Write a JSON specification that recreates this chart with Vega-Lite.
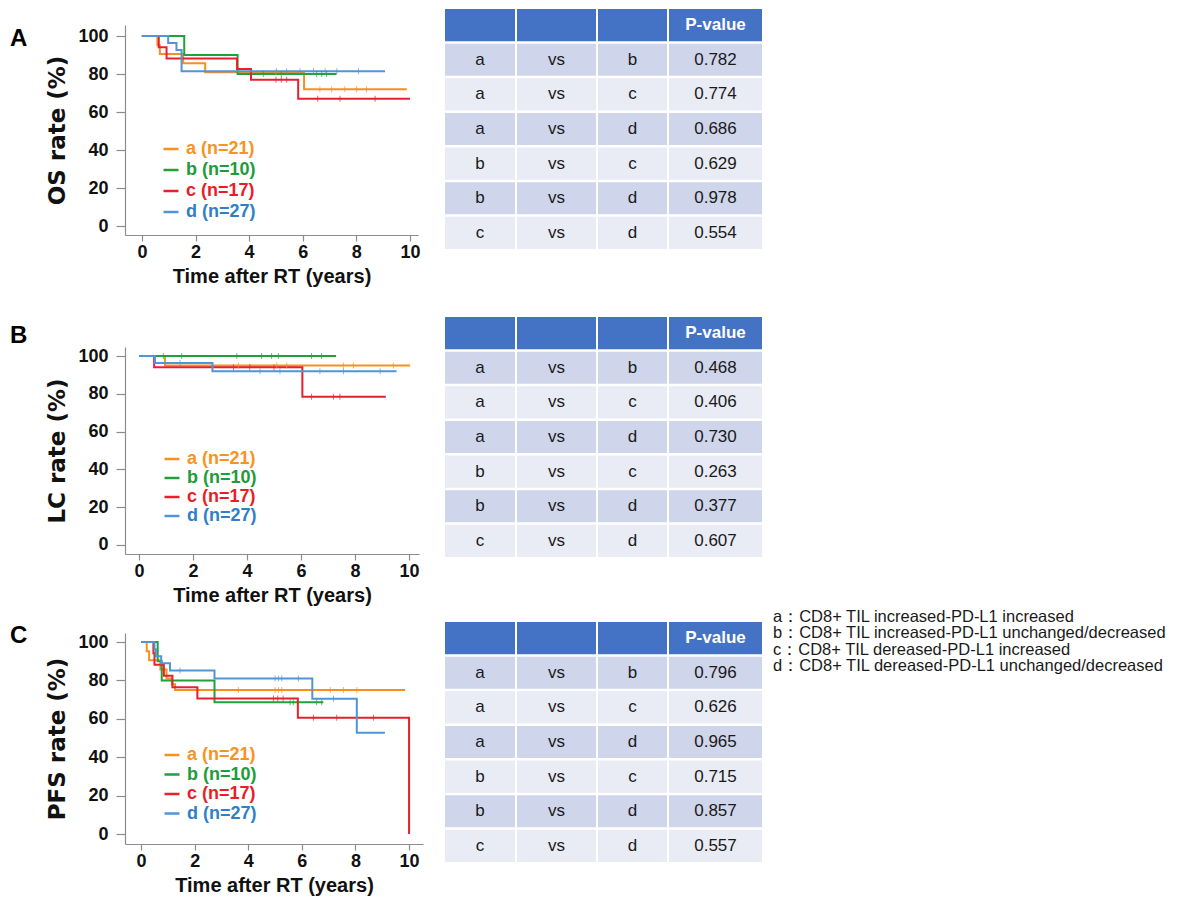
{
  "$schema": "https://vega.github.io/schema/vega-lite/v6.json",
  "background": "white",
  "padding": {"left": 10, "top": 9, "right": 4, "bottom": 2},
  "config": {
    "view": {"stroke": null},
    "font": "Liberation Sans",
    "axis": {"grid": false, "domainColor": "#8c8c8c", "tickColor": "#8c8c8c", "domainWidth": 1.2, "tickWidth": 1.2, "labelFont": "Liberation Sans", "labelFontSize": 18, "labelFontWeight": "bold", "labelColor": "#111111", "titleColor": "#111111", "titleFontWeight": "bold"},
    "axisX": {"tickSize": 6, "labelPadding": 2, "titleFont": "Liberation Sans", "titleFontSize": 20, "titlePadding": 5},
    "axisY": {"tickSize": 9, "labelPadding": 8, "titleFont": "DejaVu Sans", "titleFontSize": 23, "titlePadding": 8},
    "legend": {"symbolType": "stroke", "symbolSize": 225, "symbolStrokeWidth": 2.5, "labelFont": "Liberation Sans", "labelFontSize": 18, "labelFontWeight": "bold", "labelOffset": 6, "padding": 0}
  },
  "datasets": {
    "km": [
      {"panel":"A","group":"a (n=21)","time":0,"rate":100},{"panel":"A","group":"a (n=21)","time":0.58,"rate":95.2},{"panel":"A","group":"a (n=21)","time":0.67,"rate":90.5},{"panel":"A","group":"a (n=21)","time":1.54,"rate":85.7},{"panel":"A","group":"a (n=21)","time":2.36,"rate":81.0},{"panel":"A","group":"a (n=21)","time":6.05,"rate":72.0},{"panel":"A","group":"a (n=21)","time":9.88,"rate":72.0},
      {"panel":"A","group":"b (n=10)","time":0,"rate":100},{"panel":"A","group":"b (n=10)","time":1.58,"rate":90},{"panel":"A","group":"b (n=10)","time":3.57,"rate":80},{"panel":"A","group":"b (n=10)","time":7.26,"rate":80},
      {"panel":"A","group":"c (n=17)","time":0,"rate":100},{"panel":"A","group":"c (n=17)","time":0.63,"rate":94.1},{"panel":"A","group":"c (n=17)","time":0.92,"rate":88.2},{"panel":"A","group":"c (n=17)","time":3.55,"rate":82.6},{"panel":"A","group":"c (n=17)","time":4.07,"rate":77.0},{"panel":"A","group":"c (n=17)","time":5.83,"rate":67.0},{"panel":"A","group":"c (n=17)","time":10.0,"rate":67.0},
      {"panel":"A","group":"d (n=27)","time":0,"rate":100},{"panel":"A","group":"d (n=27)","time":0.98,"rate":96.3},{"panel":"A","group":"d (n=27)","time":1.29,"rate":92.6},{"panel":"A","group":"d (n=27)","time":1.48,"rate":81.5},{"panel":"A","group":"d (n=27)","time":9.07,"rate":81.5},
      {"panel":"B","group":"a (n=21)","time":0,"rate":100},{"panel":"B","group":"a (n=21)","time":0.96,"rate":95.0},{"panel":"B","group":"a (n=21)","time":10.04,"rate":95.0},
      {"panel":"B","group":"b (n=10)","time":0,"rate":100},{"panel":"B","group":"b (n=10)","time":7.3,"rate":100},
      {"panel":"B","group":"c (n=17)","time":0,"rate":100},{"panel":"B","group":"c (n=17)","time":0.56,"rate":94.1},{"panel":"B","group":"c (n=17)","time":6.05,"rate":78.4},{"panel":"B","group":"c (n=17)","time":9.14,"rate":78.4},
      {"panel":"B","group":"d (n=27)","time":0,"rate":100},{"panel":"B","group":"d (n=27)","time":0.59,"rate":96.3},{"panel":"B","group":"d (n=27)","time":2.72,"rate":92.0},{"panel":"B","group":"d (n=27)","time":9.54,"rate":92.0},
      {"panel":"C","group":"a (n=21)","time":0,"rate":100},{"panel":"C","group":"a (n=21)","time":0.21,"rate":95.2},{"panel":"C","group":"a (n=21)","time":0.3,"rate":90.5},{"panel":"C","group":"a (n=21)","time":0.72,"rate":85.7},{"panel":"C","group":"a (n=21)","time":0.95,"rate":81.0},{"panel":"C","group":"a (n=21)","time":1.15,"rate":78.0},{"panel":"C","group":"a (n=21)","time":1.27,"rate":75.0},{"panel":"C","group":"a (n=21)","time":9.85,"rate":75.0},
      {"panel":"C","group":"b (n=10)","time":0,"rate":100},{"panel":"C","group":"b (n=10)","time":0.62,"rate":90},{"panel":"C","group":"b (n=10)","time":0.77,"rate":80},{"panel":"C","group":"b (n=10)","time":2.74,"rate":68.6},{"panel":"C","group":"b (n=10)","time":6.8,"rate":68.6},
      {"panel":"C","group":"c (n=17)","time":0,"rate":100},{"panel":"C","group":"c (n=17)","time":0.46,"rate":94.1},{"panel":"C","group":"c (n=17)","time":0.5,"rate":88.2},{"panel":"C","group":"c (n=17)","time":0.85,"rate":82.4},{"panel":"C","group":"c (n=17)","time":1.17,"rate":76.5},{"panel":"C","group":"c (n=17)","time":2.1,"rate":70.6},{"panel":"C","group":"c (n=17)","time":5.85,"rate":60.5},{"panel":"C","group":"c (n=17)","time":10.0,"rate":0},
      {"panel":"C","group":"d (n=27)","time":0,"rate":100},{"panel":"C","group":"d (n=27)","time":0.5,"rate":96.3},{"panel":"C","group":"d (n=27)","time":0.55,"rate":92.6},{"panel":"C","group":"d (n=27)","time":0.75,"rate":88.9},{"panel":"C","group":"d (n=27)","time":1.08,"rate":85.2},{"panel":"C","group":"d (n=27)","time":2.74,"rate":81.0},{"panel":"C","group":"d (n=27)","time":6.39,"rate":70.5},{"panel":"C","group":"d (n=27)","time":8.05,"rate":52.8},{"panel":"C","group":"d (n=27)","time":9.1,"rate":52.8}
    ],
    "cens": [
      {"panel":"A","group":"a (n=21)","time":5.0,"rate":81.0},{"panel":"A","group":"a (n=21)","time":6.64,"rate":72},{"panel":"A","group":"a (n=21)","time":7.08,"rate":72},{"panel":"A","group":"a (n=21)","time":7.57,"rate":72},{"panel":"A","group":"a (n=21)","time":8.01,"rate":72},{"panel":"A","group":"a (n=21)","time":8.38,"rate":72},
      {"panel":"A","group":"b (n=10)","time":4.53,"rate":80},{"panel":"A","group":"b (n=10)","time":5.2,"rate":80},{"panel":"A","group":"b (n=10)","time":6.52,"rate":80},{"panel":"A","group":"b (n=10)","time":6.71,"rate":80},{"panel":"A","group":"b (n=10)","time":6.89,"rate":80},
      {"panel":"A","group":"c (n=17)","time":5.0,"rate":77},{"panel":"A","group":"c (n=17)","time":5.2,"rate":77},{"panel":"A","group":"c (n=17)","time":5.4,"rate":77},{"panel":"A","group":"c (n=17)","time":6.56,"rate":67},{"panel":"A","group":"c (n=17)","time":7.39,"rate":67},{"panel":"A","group":"c (n=17)","time":8.7,"rate":67},
      {"panel":"A","group":"d (n=27)","time":5.02,"rate":81.5},{"panel":"A","group":"d (n=27)","time":5.4,"rate":81.5},{"panel":"A","group":"d (n=27)","time":5.9,"rate":81.5},{"panel":"A","group":"d (n=27)","time":6.4,"rate":81.5},{"panel":"A","group":"d (n=27)","time":6.84,"rate":81.5},{"panel":"A","group":"d (n=27)","time":7.27,"rate":81.5},{"panel":"A","group":"d (n=27)","time":8.08,"rate":81.5},
      {"panel":"B","group":"a (n=21)","time":3.68,"rate":95},{"panel":"B","group":"a (n=21)","time":5.1,"rate":95},{"panel":"B","group":"a (n=21)","time":5.47,"rate":95},{"panel":"B","group":"a (n=21)","time":7.57,"rate":95},{"panel":"B","group":"a (n=21)","time":7.94,"rate":95},{"panel":"B","group":"a (n=21)","time":9.42,"rate":95},
      {"panel":"B","group":"b (n=10)","time":0.9,"rate":100},{"panel":"B","group":"b (n=10)","time":1.58,"rate":100},{"panel":"B","group":"b (n=10)","time":3.62,"rate":100},{"panel":"B","group":"b (n=10)","time":4.54,"rate":100},{"panel":"B","group":"b (n=10)","time":4.91,"rate":100},{"panel":"B","group":"b (n=10)","time":5.16,"rate":100},{"panel":"B","group":"b (n=10)","time":6.39,"rate":100},{"panel":"B","group":"b (n=10)","time":6.76,"rate":100},
      {"panel":"B","group":"c (n=17)","time":3.5,"rate":94.1},{"panel":"B","group":"c (n=17)","time":4.1,"rate":94.1},{"panel":"B","group":"c (n=17)","time":5.0,"rate":94.1},{"panel":"B","group":"c (n=17)","time":6.39,"rate":78.4},{"panel":"B","group":"c (n=17)","time":7.2,"rate":78.4},{"panel":"B","group":"c (n=17)","time":7.44,"rate":78.4},
      {"panel":"B","group":"d (n=27)","time":1.52,"rate":96.3},{"panel":"B","group":"d (n=27)","time":4.48,"rate":92},{"panel":"B","group":"d (n=27)","time":5.22,"rate":92},{"panel":"B","group":"d (n=27)","time":6.7,"rate":92},{"panel":"B","group":"d (n=27)","time":7.57,"rate":92},{"panel":"B","group":"d (n=27)","time":8.93,"rate":92},
      {"panel":"C","group":"a (n=21)","time":3.63,"rate":75},{"panel":"C","group":"a (n=21)","time":5.0,"rate":75},{"panel":"C","group":"a (n=21)","time":5.13,"rate":75},{"panel":"C","group":"a (n=21)","time":5.25,"rate":75},{"panel":"C","group":"a (n=21)","time":7.06,"rate":75},{"panel":"C","group":"a (n=21)","time":7.55,"rate":75},{"panel":"C","group":"a (n=21)","time":8.05,"rate":75},
      {"panel":"C","group":"b (n=10)","time":5.56,"rate":68.6},{"panel":"C","group":"b (n=10)","time":5.68,"rate":68.6},{"panel":"C","group":"b (n=10)","time":6.55,"rate":68.6},{"panel":"C","group":"b (n=10)","time":6.74,"rate":68.6},
      {"panel":"C","group":"c (n=17)","time":4.94,"rate":70.6},{"panel":"C","group":"c (n=17)","time":5.1,"rate":70.6},{"panel":"C","group":"c (n=17)","time":5.3,"rate":70.6},{"panel":"C","group":"c (n=17)","time":6.43,"rate":60.5},{"panel":"C","group":"c (n=17)","time":7.3,"rate":60.5},{"panel":"C","group":"c (n=17)","time":8.67,"rate":60.5},
      {"panel":"C","group":"d (n=27)","time":1.45,"rate":85.2},{"panel":"C","group":"d (n=27)","time":5.0,"rate":81},{"panel":"C","group":"d (n=27)","time":5.13,"rate":81},{"panel":"C","group":"d (n=27)","time":5.25,"rate":81},{"panel":"C","group":"d (n=27)","time":5.87,"rate":81},{"panel":"C","group":"d (n=27)","time":7.18,"rate":70.5}
    ],
    "tbl": [
      {"panel":"A","row":"h","c1":"","c2":"","c3":"","c4":"P-value"},
      {"panel":"A","row":"1","c1":"a","c2":"vs","c3":"b","c4":"0.782"},
      {"panel":"A","row":"2","c1":"a","c2":"vs","c3":"c","c4":"0.774"},
      {"panel":"A","row":"3","c1":"a","c2":"vs","c3":"d","c4":"0.686"},
      {"panel":"A","row":"4","c1":"b","c2":"vs","c3":"c","c4":"0.629"},
      {"panel":"A","row":"5","c1":"b","c2":"vs","c3":"d","c4":"0.978"},
      {"panel":"A","row":"6","c1":"c","c2":"vs","c3":"d","c4":"0.554"},
      {"panel":"B","row":"h","c1":"","c2":"","c3":"","c4":"P-value"},
      {"panel":"B","row":"1","c1":"a","c2":"vs","c3":"b","c4":"0.468"},
      {"panel":"B","row":"2","c1":"a","c2":"vs","c3":"c","c4":"0.406"},
      {"panel":"B","row":"3","c1":"a","c2":"vs","c3":"d","c4":"0.730"},
      {"panel":"B","row":"4","c1":"b","c2":"vs","c3":"c","c4":"0.263"},
      {"panel":"B","row":"5","c1":"b","c2":"vs","c3":"d","c4":"0.377"},
      {"panel":"B","row":"6","c1":"c","c2":"vs","c3":"d","c4":"0.607"},
      {"panel":"C","row":"h","c1":"","c2":"","c3":"","c4":"P-value"},
      {"panel":"C","row":"1","c1":"a","c2":"vs","c3":"b","c4":"0.796"},
      {"panel":"C","row":"2","c1":"a","c2":"vs","c3":"c","c4":"0.626"},
      {"panel":"C","row":"3","c1":"a","c2":"vs","c3":"d","c4":"0.965"},
      {"panel":"C","row":"4","c1":"b","c2":"vs","c3":"c","c4":"0.715"},
      {"panel":"C","row":"5","c1":"b","c2":"vs","c3":"d","c4":"0.857"},
      {"panel":"C","row":"6","c1":"c","c2":"vs","c3":"d","c4":"0.557"}
    ],
    "key": [
      {"k":"a","label":"a：CD8+ TIL increased-PD-L1 increased"},
      {"k":"b","label":"b：CD8+ TIL increased-PD-L1 unchanged/decreased"},
      {"k":"c","label":"c：CD8+ TIL dereased-PD-L1 increased"},
      {"k":"d","label":"d：CD8+ TIL dereased-PD-L1 unchanged/decreased"}
    ]
  },
  "spacing": 31,
  "resolve": {"scale": {"color": "independent"}, "legend": {"color": "independent"}},
  "vconcat": [
    {
      "hconcat": [
        {
          "width": 318, "height": 226,
          "title": {"text": "A", "orient": "top", "anchor": "start", "frame": "group", "align": "left", "baseline": "top", "offset": 0, "dx": -115, "dy": 42, "fontSize": 24, "fontWeight": "bold", "font": "Liberation Sans", "color": "#000000"},
          "encoding": {
            "x": {"field": "time", "type": "quantitative", "scale": {"domain": [-0.63, 10.3], "range": [0, 293], "nice": false, "zero": false}, "axis": {"values": [0, 2, 4, 6, 8, 10], "title": "Time after RT (years)"}},
            "y": {"field": "rate", "type": "quantitative", "scale": {"domain": [-4.7, 105.8], "range": [226, 16], "nice": false, "zero": false}, "axis": {"values": [0, 20, 40, 60, 80, 100], "title": "OS rate (%)"}}
          },
          "layer": [
            {"data": {"name": "km"}, "transform": [{"filter": "datum.panel === 'A'"}], "mark": {"type": "line", "interpolate": "step-after", "strokeWidth": 2},
             "encoding": {"color": {"field": "group", "type": "nominal", "scale": {"domain": ["a (n=21)", "b (n=10)", "c (n=17)", "d (n=27)"], "range": ["#F7901E", "#22A03C", "#E8202C", "#4F95DA"]},
               "legend": {"title": null, "orient": "none", "legendX": 37, "legendY": 131, "rowPadding": 3, "labelColor": {"expr": "datum.value == 'a (n=21)' ? '#F7931E' : datum.value == 'b (n=10)' ? '#1E9B3A' : datum.value == 'c (n=17)' ? '#EA1D27' : '#2F7FC8'"}}}}},
            {"data": {"name": "cens"}, "transform": [{"filter": "datum.panel === 'A'"}], "mark": {"type": "tick", "orient": "vertical", "size": 6, "thickness": 1},
             "encoding": {"color": {"field": "group", "type": "nominal", "legend": null}}}
          ]
        },
        {"width": 70, "height": 240, "data": {"name": "tbl"}, "transform": [{"filter": "datum.panel === 'A'"}],
         "encoding": {"y": {"field": "row", "type": "ordinal", "scale": {"domain": ["h","1","2","3","4","5","6"], "paddingInner": 0.07, "paddingOuter": 0}, "axis": null}},
         "layer": [
           {"mark": {"type": "rect"}, "encoding": {"fill": {"condition": [{"test": "datum.row === 'h'", "value": "#4472C4"}, {"test": "datum.row === '1' || datum.row === '3' || datum.row === '5'", "value": "#CFD5EA"}], "value": "#E9EBF5"}}},
           {"transform": [{"filter": "datum.row !== 'h'"}], "mark": {"type": "text", "fontSize": 17, "color": "#1a1a1a"}, "encoding": {"text": {"field": "c1"}}}
         ]},
        {"width": 79, "height": 240, "data": {"name": "tbl"}, "transform": [{"filter": "datum.panel === 'A'"}],
         "encoding": {"y": {"field": "row", "type": "ordinal", "scale": {"domain": ["h","1","2","3","4","5","6"], "paddingInner": 0.07, "paddingOuter": 0}, "axis": null}},
         "layer": [
           {"mark": {"type": "rect"}, "encoding": {"fill": {"condition": [{"test": "datum.row === 'h'", "value": "#4472C4"}, {"test": "datum.row === '1' || datum.row === '3' || datum.row === '5'", "value": "#CFD5EA"}], "value": "#E9EBF5"}}},
           {"transform": [{"filter": "datum.row !== 'h'"}], "mark": {"type": "text", "fontSize": 17, "color": "#1a1a1a"}, "encoding": {"text": {"field": "c2"}}}
         ]},
        {"width": 69, "height": 240, "data": {"name": "tbl"}, "transform": [{"filter": "datum.panel === 'A'"}],
         "encoding": {"y": {"field": "row", "type": "ordinal", "scale": {"domain": ["h","1","2","3","4","5","6"], "paddingInner": 0.07, "paddingOuter": 0}, "axis": null}},
         "layer": [
           {"mark": {"type": "rect"}, "encoding": {"fill": {"condition": [{"test": "datum.row === 'h'", "value": "#4472C4"}, {"test": "datum.row === '1' || datum.row === '3' || datum.row === '5'", "value": "#CFD5EA"}], "value": "#E9EBF5"}}},
           {"transform": [{"filter": "datum.row !== 'h'"}], "mark": {"type": "text", "fontSize": 17, "color": "#1a1a1a"}, "encoding": {"text": {"field": "c3"}}}
         ]},
        {"width": 93, "height": 240, "data": {"name": "tbl"}, "transform": [{"filter": "datum.panel === 'A'"}],
         "encoding": {"y": {"field": "row", "type": "ordinal", "scale": {"domain": ["h","1","2","3","4","5","6"], "paddingInner": 0.07, "paddingOuter": 0}, "axis": null}},
         "layer": [
           {"mark": {"type": "rect"}, "encoding": {"fill": {"condition": [{"test": "datum.row === 'h'", "value": "#4472C4"}, {"test": "datum.row === '1' || datum.row === '3' || datum.row === '5'", "value": "#CFD5EA"}], "value": "#E9EBF5"}}},
           {"transform": [{"filter": "datum.row !== 'h'"}], "mark": {"type": "text", "fontSize": 17, "color": "#1a1a1a"}, "encoding": {"text": {"field": "c4"}}},
           {"transform": [{"filter": "datum.row === 'h'"}], "mark": {"type": "text", "fontSize": 17, "fontWeight": "bold", "color": "#ffffff"}, "encoding": {"text": {"field": "c4"}}}
         ]}
      ],
      "spacing": 2,
      "bounds": "flush",
      "resolve": {"scale": {"color": "independent"}, "legend": {"color": "independent"}}
    },
    {
      "vconcat": [
        {
          "hconcat": [
            {
              "width": 318, "height": 237,
              "title": {"text": "B", "orient": "top", "anchor": "start", "frame": "group", "align": "left", "baseline": "top", "offset": 0, "dx": -115, "dy": 31, "fontSize": 24, "fontWeight": "bold", "font": "Liberation Sans", "color": "#000000"},
              "encoding": {
                "x": {"field": "time", "type": "quantitative", "scale": {"domain": [-0.52, 10.37], "range": [0, 294], "nice": false, "zero": false}, "axis": {"values": [0, 2, 4, 6, 8, 10], "title": "Time after RT (years)"}},
                "y": {"field": "rate", "type": "quantitative", "scale": {"domain": [-4.8, 104.8], "range": [237, 30], "nice": false, "zero": false}, "axis": {"values": [0, 20, 40, 60, 80, 100], "title": "LC rate (%)"}}
              },
              "layer": [
                {"data": {"name": "km"}, "transform": [{"filter": "datum.panel === 'B'"}], "mark": {"type": "line", "interpolate": "step-after", "strokeWidth": 2},
                 "encoding": {"color": {"field": "group", "type": "nominal", "scale": {"domain": ["a (n=21)", "b (n=10)", "c (n=17)", "d (n=27)"], "range": ["#F7901E", "#22A03C", "#E8202C", "#4F95DA"]},
                   "legend": {"title": null, "orient": "none", "legendX": 38, "legendY": 133, "rowPadding": 1, "labelColor": {"expr": "datum.value == 'a (n=21)' ? '#F7931E' : datum.value == 'b (n=10)' ? '#1E9B3A' : datum.value == 'c (n=17)' ? '#EA1D27' : '#2F7FC8'"}}}}},
                {"data": {"name": "cens"}, "transform": [{"filter": "datum.panel === 'B'"}], "mark": {"type": "tick", "orient": "vertical", "size": 6, "thickness": 1},
                 "encoding": {"color": {"field": "group", "type": "nominal", "legend": null}}}
              ]
            },
            {"width": 70, "height": 240, "data": {"name": "tbl"}, "transform": [{"filter": "datum.panel === 'B'"}],
             "encoding": {"y": {"field": "row", "type": "ordinal", "scale": {"domain": ["h","1","2","3","4","5","6"], "paddingInner": 0.07, "paddingOuter": 0}, "axis": null}},
             "layer": [
               {"mark": {"type": "rect"}, "encoding": {"fill": {"condition": [{"test": "datum.row === 'h'", "value": "#4472C4"}, {"test": "datum.row === '1' || datum.row === '3' || datum.row === '5'", "value": "#CFD5EA"}], "value": "#E9EBF5"}}},
               {"transform": [{"filter": "datum.row !== 'h'"}], "mark": {"type": "text", "fontSize": 17, "color": "#1a1a1a"}, "encoding": {"text": {"field": "c1"}}}
             ]},
            {"width": 79, "height": 240, "data": {"name": "tbl"}, "transform": [{"filter": "datum.panel === 'B'"}],
             "encoding": {"y": {"field": "row", "type": "ordinal", "scale": {"domain": ["h","1","2","3","4","5","6"], "paddingInner": 0.07, "paddingOuter": 0}, "axis": null}},
             "layer": [
               {"mark": {"type": "rect"}, "encoding": {"fill": {"condition": [{"test": "datum.row === 'h'", "value": "#4472C4"}, {"test": "datum.row === '1' || datum.row === '3' || datum.row === '5'", "value": "#CFD5EA"}], "value": "#E9EBF5"}}},
               {"transform": [{"filter": "datum.row !== 'h'"}], "mark": {"type": "text", "fontSize": 17, "color": "#1a1a1a"}, "encoding": {"text": {"field": "c2"}}}
             ]},
            {"width": 69, "height": 240, "data": {"name": "tbl"}, "transform": [{"filter": "datum.panel === 'B'"}],
             "encoding": {"y": {"field": "row", "type": "ordinal", "scale": {"domain": ["h","1","2","3","4","5","6"], "paddingInner": 0.07, "paddingOuter": 0}, "axis": null}},
             "layer": [
               {"mark": {"type": "rect"}, "encoding": {"fill": {"condition": [{"test": "datum.row === 'h'", "value": "#4472C4"}, {"test": "datum.row === '1' || datum.row === '3' || datum.row === '5'", "value": "#CFD5EA"}], "value": "#E9EBF5"}}},
               {"transform": [{"filter": "datum.row !== 'h'"}], "mark": {"type": "text", "fontSize": 17, "color": "#1a1a1a"}, "encoding": {"text": {"field": "c3"}}}
             ]},
            {"width": 93, "height": 240, "data": {"name": "tbl"}, "transform": [{"filter": "datum.panel === 'B'"}],
             "encoding": {"y": {"field": "row", "type": "ordinal", "scale": {"domain": ["h","1","2","3","4","5","6"], "paddingInner": 0.07, "paddingOuter": 0}, "axis": null}},
             "layer": [
               {"mark": {"type": "rect"}, "encoding": {"fill": {"condition": [{"test": "datum.row === 'h'", "value": "#4472C4"}, {"test": "datum.row === '1' || datum.row === '3' || datum.row === '5'", "value": "#CFD5EA"}], "value": "#E9EBF5"}}},
               {"transform": [{"filter": "datum.row !== 'h'"}], "mark": {"type": "text", "fontSize": 17, "color": "#1a1a1a"}, "encoding": {"text": {"field": "c4"}}},
               {"transform": [{"filter": "datum.row === 'h'"}], "mark": {"type": "text", "fontSize": 17, "fontWeight": "bold", "color": "#ffffff"}, "encoding": {"text": {"field": "c4"}}}
             ]}
          ],
          "spacing": 2,
          "bounds": "flush",
          "resolve": {"scale": {"color": "independent"}, "legend": {"color": "independent"}}
        },
        {
          "hconcat": [
            {
              "width": 318, "height": 222,
              "title": {"text": "C", "orient": "top", "anchor": "start", "frame": "group", "align": "left", "baseline": "top", "offset": 0, "dx": -115, "dy": 26, "fontSize": 24, "fontWeight": "bold", "font": "Liberation Sans", "color": "#000000"},
              "encoding": {
                "x": {"field": "time", "type": "quantitative", "scale": {"domain": [-0.6, 10.52], "range": [0, 298], "nice": false, "zero": false}, "axis": {"values": [0, 2, 4, 6, 8, 10], "title": "Time after RT (years)"}},
                "y": {"field": "rate", "type": "quantitative", "scale": {"domain": [-5.2, 104.7], "range": [222, 11], "nice": false, "zero": false}, "axis": {"values": [0, 20, 40, 60, 80, 100], "title": "PFS rate  (%)"}}
              },
              "layer": [
                {"data": {"name": "km"}, "transform": [{"filter": "datum.panel === 'C'"}], "mark": {"type": "line", "interpolate": "step-after", "strokeWidth": 2},
                 "encoding": {"color": {"field": "group", "type": "nominal", "scale": {"domain": ["a (n=21)", "b (n=10)", "c (n=17)", "d (n=27)"], "range": ["#F7901E", "#22A03C", "#E8202C", "#4F95DA"]},
                   "legend": {"title": null, "orient": "none", "legendX": 38, "legendY": 124, "rowPadding": 1.5, "labelColor": {"expr": "datum.value == 'a (n=21)' ? '#F7931E' : datum.value == 'b (n=10)' ? '#1E9B3A' : datum.value == 'c (n=17)' ? '#EA1D27' : '#2F7FC8'"}}}}},
                {"data": {"name": "cens"}, "transform": [{"filter": "datum.panel === 'C'"}], "mark": {"type": "tick", "orient": "vertical", "size": 6, "thickness": 1},
                 "encoding": {"color": {"field": "group", "type": "nominal", "legend": null}}}
              ]
            },
            {"width": 70, "height": 240, "data": {"name": "tbl"}, "transform": [{"filter": "datum.panel === 'C'"}],
             "encoding": {"y": {"field": "row", "type": "ordinal", "scale": {"domain": ["h","1","2","3","4","5","6"], "paddingInner": 0.07, "paddingOuter": 0}, "axis": null}},
             "layer": [
               {"mark": {"type": "rect"}, "encoding": {"fill": {"condition": [{"test": "datum.row === 'h'", "value": "#4472C4"}, {"test": "datum.row === '1' || datum.row === '3' || datum.row === '5'", "value": "#CFD5EA"}], "value": "#E9EBF5"}}},
               {"transform": [{"filter": "datum.row !== 'h'"}], "mark": {"type": "text", "fontSize": 17, "color": "#1a1a1a"}, "encoding": {"text": {"field": "c1"}}}
             ]},
            {"width": 79, "height": 240, "data": {"name": "tbl"}, "transform": [{"filter": "datum.panel === 'C'"}],
             "encoding": {"y": {"field": "row", "type": "ordinal", "scale": {"domain": ["h","1","2","3","4","5","6"], "paddingInner": 0.07, "paddingOuter": 0}, "axis": null}},
             "layer": [
               {"mark": {"type": "rect"}, "encoding": {"fill": {"condition": [{"test": "datum.row === 'h'", "value": "#4472C4"}, {"test": "datum.row === '1' || datum.row === '3' || datum.row === '5'", "value": "#CFD5EA"}], "value": "#E9EBF5"}}},
               {"transform": [{"filter": "datum.row !== 'h'"}], "mark": {"type": "text", "fontSize": 17, "color": "#1a1a1a"}, "encoding": {"text": {"field": "c2"}}}
             ]},
            {"width": 69, "height": 240, "data": {"name": "tbl"}, "transform": [{"filter": "datum.panel === 'C'"}],
             "encoding": {"y": {"field": "row", "type": "ordinal", "scale": {"domain": ["h","1","2","3","4","5","6"], "paddingInner": 0.07, "paddingOuter": 0}, "axis": null}},
             "layer": [
               {"mark": {"type": "rect"}, "encoding": {"fill": {"condition": [{"test": "datum.row === 'h'", "value": "#4472C4"}, {"test": "datum.row === '1' || datum.row === '3' || datum.row === '5'", "value": "#CFD5EA"}], "value": "#E9EBF5"}}},
               {"transform": [{"filter": "datum.row !== 'h'"}], "mark": {"type": "text", "fontSize": 17, "color": "#1a1a1a"}, "encoding": {"text": {"field": "c3"}}}
             ]},
            {"width": 93, "height": 240, "data": {"name": "tbl"}, "transform": [{"filter": "datum.panel === 'C'"}],
             "encoding": {"y": {"field": "row", "type": "ordinal", "scale": {"domain": ["h","1","2","3","4","5","6"], "paddingInner": 0.07, "paddingOuter": 0}, "axis": null}},
             "layer": [
               {"mark": {"type": "rect"}, "encoding": {"fill": {"condition": [{"test": "datum.row === 'h'", "value": "#4472C4"}, {"test": "datum.row === '1' || datum.row === '3' || datum.row === '5'", "value": "#CFD5EA"}], "value": "#E9EBF5"}}},
               {"transform": [{"filter": "datum.row !== 'h'"}], "mark": {"type": "text", "fontSize": 17, "color": "#1a1a1a"}, "encoding": {"text": {"field": "c4"}}},
               {"transform": [{"filter": "datum.row === 'h'"}], "mark": {"type": "text", "fontSize": 17, "fontWeight": "bold", "color": "#ffffff"}, "encoding": {"text": {"field": "c4"}}}
             ]},
            {"width": 18, "height": 49, "data": {"name": "key"},
             "mark": {"type": "text", "align": "left", "baseline": "alphabetic", "fontSize": 16.5, "color": "#1a1a1a"},
             "encoding": {"y": {"field": "k", "type": "ordinal", "scale": {"type": "point", "padding": 0, "domain": ["a", "b", "c", "d"]}, "axis": null}, "text": {"field": "label"}}}
          ],
          "spacing": 2,
          "bounds": "flush",
          "resolve": {"scale": {"color": "independent"}, "legend": {"color": "independent"}}
        }
      ],
      "spacing": 4,
      "resolve": {"scale": {"color": "independent"}, "legend": {"color": "independent"}}
    }
  ]
}
